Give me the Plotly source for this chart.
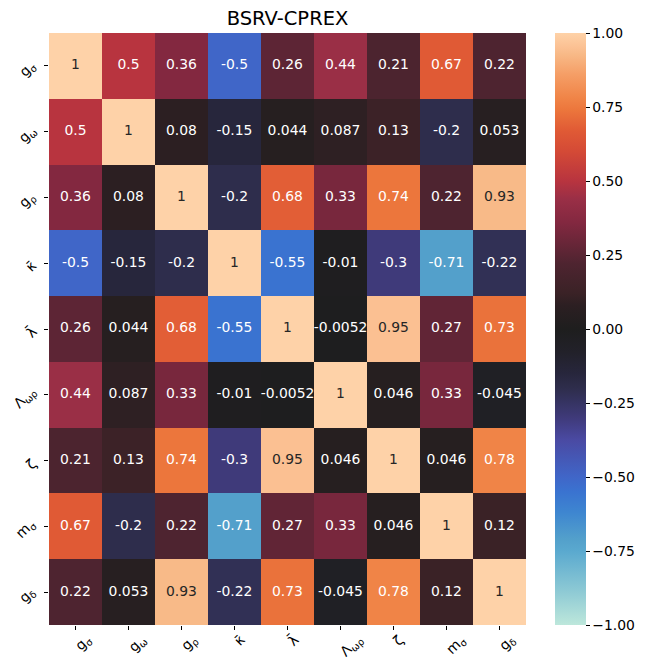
import plotly.graph_objects as go

labels = ["g<sub>σ</sub>", "g<sub>ω</sub>", "g<sub>ρ</sub>", "κ\u0304", "λ\u0304",
          "Λ<sub>ωρ</sub>", "ζ", "m<sub>σ</sub>", "g<sub>δ</sub>"]

corr = [
    [1, 0.5, 0.36, -0.5, 0.26, 0.44, 0.21, 0.67, 0.22],
    [0.5, 1, 0.08, -0.15, 0.044, 0.087, 0.13, -0.2, 0.053],
    [0.36, 0.08, 1, -0.2, 0.68, 0.33, 0.74, 0.22, 0.93],
    [-0.5, -0.15, -0.2, 1, -0.55, -0.01, -0.3, -0.71, -0.22],
    [0.26, 0.044, 0.68, -0.55, 1, -0.0052, 0.95, 0.27, 0.73],
    [0.44, 0.087, 0.33, -0.01, -0.0052, 1, 0.046, 0.33, -0.045],
    [0.21, 0.13, 0.74, -0.3, 0.95, 0.046, 1, 0.046, 0.78],
    [0.67, -0.2, 0.22, -0.71, 0.27, 0.33, 0.046, 1, 0.12],
    [0.22, 0.053, 0.93, -0.22, 0.73, -0.045, 0.78, 0.12, 1],
]

cbar_ticks = [-1, -0.75, -0.5, -0.25, 0, 0.25, 0.5, 0.75, 1]

icefire = [
    [0.0, "#bde7db"], [0.06, "#8bc8d4"], [0.125, "#5aa9cf"], [0.145, "#53a0cb"],
    [0.19, "#3e86d0"], [0.225, "#3a73d0"], [0.25, "#4066c8"], [0.3125, "#4a4aa3"],
    [0.35, "#3f3a7a"], [0.375, "#363463"], [0.4, "#2e2d4c"], [0.425, "#27263c"],
    [0.46, "#22212a"], [0.5, "#1e1e1e"], [0.54, "#2c1f22"], [0.56, "#3a2226"],
    [0.61, "#4e2430"], [0.68, "#832840"], [0.72, "#9a2f46"], [0.75, "#b8343f"],
    [0.8, "#d44a36"], [0.835, "#e05a35"], [0.87, "#ec763c"], [0.89, "#f08447"],
    [0.93, "#f59e66"], [0.965, "#f8ba88"], [0.975, "#fbc092"], [1.0, "#fed2a8"],
]

FONT = "DejaVu Sans"

fig = go.Figure()
fig.add_trace(go.Heatmap(
    z=corr, x=labels, y=labels, zmin=-1, zmax=1, colorscale=icefire,
    hoverinfo="skip",
    colorbar=dict(
        x=1.061, xanchor="left", xref="paper", y=0.5, yanchor="middle",
        len=1, lenmode="fraction", thickness=31, outlinewidth=0, ypad=0, xpad=0,
        tickvals=cbar_ticks, tickformat=".2f", ticks="outside", ticklen=4,
        tickcolor="black", tickfont=dict(family=FONT, size=13.9, color="black"),
    ),
))

xs, ys, txt, cols = [], [], [], []
for i, row in enumerate(corr):
    for j, v in enumerate(row):
        xs.append(labels[j])
        ys.append(labels[i])
        txt.append(format(v, ".2g"))
        cols.append("#262626" if v > 0.9 else "white")

fig.add_trace(go.Scatter(
    x=xs, y=ys, mode="text", text=txt,
    textfont=dict(family=FONT, size=13.9, color=cols),
    hoverinfo="skip", showlegend=False,
))

axis_common = dict(
    showgrid=False, zeroline=False, showline=False, ticks="outside", ticklen=4,
    tickcolor="black", automargin=False, showticklabels=False,
    categoryorder="array", categoryarray=labels,
)
fig.update_xaxes(**axis_common)
fig.update_yaxes(**axis_common, autorange="reversed")

lab_font = dict(family=FONT, size=13.9, color="black")
for lab in labels:
    fig.add_annotation(x=lab, xref="x", y=0, yref="paper", text=lab,
                       textangle=-45, xanchor="left", yanchor="top",
                       xshift=-5, yshift=-5, showarrow=False, font=lab_font,
                       borderpad=0)
    fig.add_annotation(x=0, xref="paper", y=lab, yref="y", text=lab,
                       textangle=-45, xanchor="right", yanchor="middle",
                       xshift=-8, yshift=-3, showarrow=False, font=lab_font,
                       borderpad=0)

fig.update_layout(
    width=652, height=658,
    margin=dict(l=49, r=126, t=33, b=33, autoexpand=False),
    paper_bgcolor="white", plot_bgcolor="white",
    title=dict(text="BSRV-CPREX", x=0.5, xref="paper", xanchor="center",
               y=1 - 18 / 658, yref="container", yanchor="middle",
               font=dict(family=FONT, size=19.5, color="black")),
    font=dict(family=FONT),
)

fig.write_html("out.html", config={"displayModeBar": False},
               post_script="document.body.style.margin='0';document.body.style.overflow='hidden';")
